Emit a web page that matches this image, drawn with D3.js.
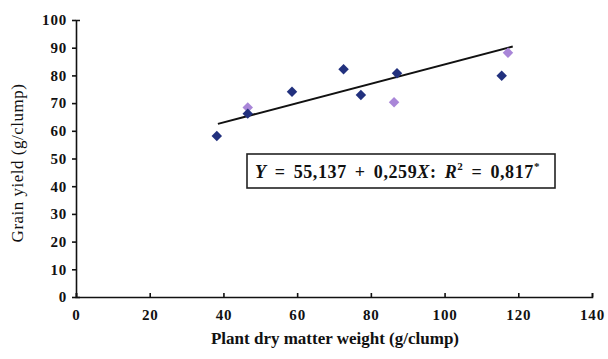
<!DOCTYPE html>
<meta charset="utf-8">
<html>
<head>
  <script src="https://cdn.jsdelivr.net/npm/d3@7"></script>
  <style>
    body { margin: 0; background: #fff; }
    text { font-family: "Liberation Serif", "Times New Roman", serif; fill: #111; }
    .tick text { font-size: 15px; font-weight: bold; letter-spacing: 0.8px; }
    .domain, .tick line { stroke: #111; stroke-width: 1.6px; }
  </style>
</head>
<body>
<script>
  // values
  var xTicks = [0, 20, 40, 60, 80, 100, 120, 140];
  var yTicks = [0, 10, 20, 30, 40, 50, 60, 70, 80, 90, 100];
  var darkX = [38.2, 46.6, 58.6, 72.6, 77.3, 87.1, 115.5];
  var darkY = [58.1, 66.2, 74.1, 82.2, 72.9, 80.8, 79.9];
  var lightX = [46.6, 86.3, 117.2];
  var lightY = [68.4, 70.3, 88.2];
  var fitX = [38.5, 118.5];
  var fitY = [62.5, 90.4];

  var width = 608, height = 359;
  var svg = d3.select("body").append("svg")
      .attr("width", width)
      .attr("height", height);

  var x = d3.scaleLinear().domain([0, 140]).range([76, 592]);
  var y = d3.scaleLinear().domain([0, 100]).range([297, 20]);

  // axes
  svg.append("g")
      .attr("transform", "translate(0," + y(0) + ")")
      .call(d3.axisBottom(x).tickValues(xTicks).tickSizeInner(-4).tickSizeOuter(-4).tickPadding(9))
      .call(function(g) { g.selectAll(".tick text").attr("dy", "0.9em"); });

  svg.append("g")
      .attr("transform", "translate(" + x(0) + ",0)")
      .call(d3.axisLeft(y).tickValues(yTicks).tickSizeInner(4).tickSizeOuter(-4).tickPadding(5));

  // fit line
  var line = d3.line()
      .x(function(d) { return x(d[0]); })
      .y(function(d) { return y(d[1]); });
  svg.append("path")
      .datum(d3.zip(fitX, fitY))
      .attr("d", line)
      .attr("fill", "none")
      .attr("stroke", "#111")
      .attr("stroke-width", 2);

  var diamond = d3.symbol().type(d3.symbolDiamond2).size(70);

  svg.selectAll(".light")
      .data(d3.zip(lightX, lightY))
      .enter().append("path")
      .attr("class", "light")
      .attr("d", diamond)
      .attr("transform", function(d) { return "translate(" + x(d[0]) + "," + y(d[1]) + ")"; })
      .attr("fill", "#a986d8");

  svg.selectAll(".dark")
      .data(d3.zip(darkX, darkY))
      .enter().append("path")
      .attr("class", "dark")
      .attr("d", diamond)
      .attr("transform", function(d) { return "translate(" + x(d[0]) + "," + y(d[1]) + ")"; })
      .attr("fill", "#22317e");

  // equation box
  svg.append("rect")
      .attr("x", 247).attr("y", 154)
      .attr("width", 308).attr("height", 34)
      .attr("fill", "#fff")
      .attr("stroke", "#222")
      .attr("stroke-width", 1.6);

  var eq = svg.append("text")
      .attr("x", 255).attr("y", 178)
      .style("font-size", "18px")
      .style("font-weight", "bold")
      .style("word-spacing", "3px")
      .style("letter-spacing", "0.6px");
  eq.append("tspan").style("font-style", "italic").text("Y");
  eq.append("tspan").text(" = 55,137 + 0,259");
  eq.append("tspan").style("font-style", "italic").text("X");
  eq.append("tspan").text(": ");
  eq.append("tspan").style("font-style", "italic").text("R");
  eq.append("tspan").attr("dy", -8).style("font-size", "11px").text("2");
  eq.append("tspan").attr("dy", 8).text(" = 0,817");
  eq.append("tspan").attr("dy", -8).style("font-size", "11px").text("*");

  // axis titles
  svg.append("text")
      .attr("x", 335).attr("y", 344)
      .attr("text-anchor", "middle")
      .style("font-size", "17px")
      .style("font-weight", "bold")
      .text("Plant dry matter weight (g/clump)");

  svg.append("text")
      .attr("transform", "translate(23,163) rotate(-90)")
      .attr("text-anchor", "middle")
      .style("font-size", "17px")
      .style("letter-spacing", "0.5px")
      .text("Grain yield (g/clump)");
</script>
</body>
</html>
